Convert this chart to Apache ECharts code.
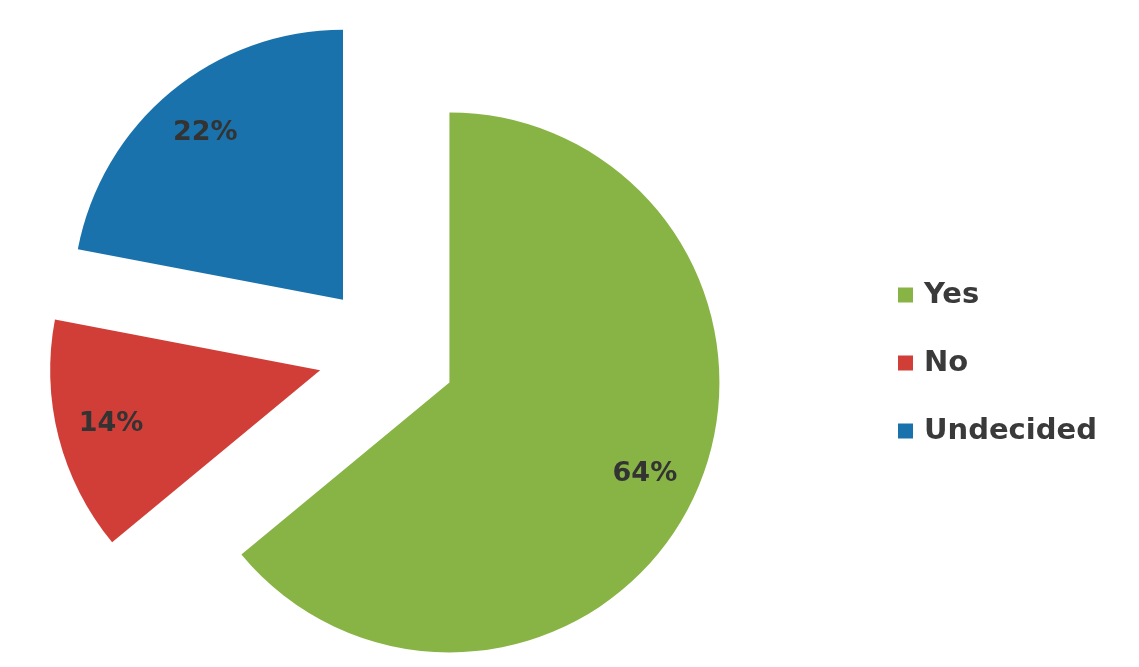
<!DOCTYPE html>
<html>
<head>
<meta charset="utf-8">
<title>Poll results</title>
<script src="https://cdn.jsdelivr.net/npm/echarts@6/dist/echarts.min.js"></script>
<style>
  html, body { margin: 0; padding: 0; background: #ffffff; }
  #chart { width: 1139px; height: 667px; }
</style>
</head>
<body>
<div id="chart"></div>
<script>
// Answers and their share of responses (percent)
const categories = ['Yes', 'No', 'Undecided'];
const shares = [64, 14, 22];
const sliceColors = ['#88b446', '#d13e38', '#1a72ad'];

const CENTER = [387, 353];
const RADIUS = 270;
const EXPLODE = 69;

const slices = categories.map((name, i) => ({
  name: name,
  value: shares[i],
  selected: true,
  itemStyle: { color: sliceColors[i] }
}));

// Transparent ring on top of the pie, used only to place the percentage labels
const labelRing = categories.map((name, i) => ({
  name: name,
  value: shares[i],
  selected: true
}));

const chart = echarts.init(document.getElementById('chart'));
chart.setOption({
  animation: false,
  backgroundColor: '#ffffff',
  legend: {
    orient: 'vertical',
    left: 893,
    top: 275,
    itemWidth: 15,
    itemHeight: 15,
    itemGap: 38,
    icon: 'rect',
    selectedMode: false,
    data: categories,
    textStyle: {
      fontFamily: 'DejaVu Sans',
      fontWeight: 'bold',
      fontSize: 29,
      lineHeight: 30,
      padding: [0, 0, 0, 6],
      color: '#3a3a3a'
    }
  },
  series: [
    {
      type: 'pie',
      center: CENTER,
      radius: [0, RADIUS],
      startAngle: 90,
      clockwise: true,
      selectedMode: 'multiple',
      selectedOffset: EXPLODE,
      silent: true,
      label: { show: false },
      labelLine: { show: false },
      emphasis: { scale: false },
      data: slices
    },
    {
      type: 'pie',
      center: CENTER,
      radius: [156, RADIUS],
      startAngle: 90,
      clockwise: true,
      selectedMode: 'multiple',
      selectedOffset: EXPLODE,
      silent: true,
      legendHoverLink: false,
      itemStyle: { color: 'rgba(0,0,0,0)' },
      label: {
        show: true,
        position: 'inside',
        formatter: '{c}%',
        fontFamily: 'DejaVu Sans',
        fontWeight: 'bold',
        fontSize: 27,
        color: '#333333'
      },
      labelLine: { show: false },
      emphasis: { scale: false },
      data: labelRing
    }
  ]
});
</script>
</body>
</html>
